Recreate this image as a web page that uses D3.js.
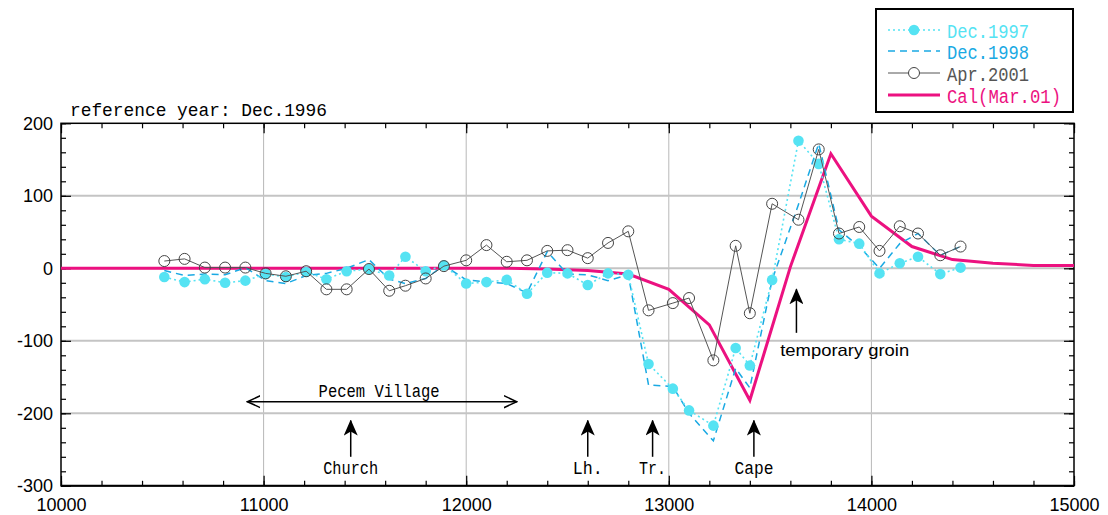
<!DOCTYPE html>
<html>
  <head>
    <meta charset="utf-8">
    <title>Shoreline change</title>
    <style>
      body { margin: 0; background: #fff; }
      .axis text { font-family: "Liberation Sans", Arial, sans-serif; font-size: 18px; fill: #000; }
      .mono { font-family: "Liberation Mono", "DejaVu Sans Mono", monospace; }
    </style>
  </head>
  <body>
    <svg width="1108" height="515"></svg>
    <script src="https://cdn.jsdelivr.net/npm/d3@7"></script>
    <script>

    // survey profile positions (m) and shoreline change relative to Dec.1996 (m)
    var distances = [10510, 10610, 10710, 10810, 10910, 11010, 11110, 11210, 11310, 11410,
                     11520, 11620, 11700, 11800, 11890, 12000, 12100, 12200, 12300, 12400,
                     12500, 12600, 12700, 12800, 12900, 13020, 13100, 13220, 13330, 13400,
                     13510, 13640, 13740, 13840, 13940, 14040, 14140, 14230, 14340, 14440];

    var dec1997 = [-12, -19, -15, -20, -17, -8, -12, -5, -15, -4,
                   -1, -10, 16, -4, 4, -21, -19, -16, -35, -6,
                   -7, -23, -7, -9, -132, -166, -196, -217, -110, -134,
                   -16, 176, 144, 40, 34, -7, 7, 16, -8, 1];

    var dec1998 = [-3, -10, -8, -9, 1, -17, -21, -10, -7, 0,
                   12, -15, -21, -14, 4, -16, -19, -21, -34, 23,
                   -8, -9, -17, -9, -161, -163, -200, -238, -138, -165,
                   -16, 88, 172, 53, 30, 0, 34, 48, 18, 30];

    var apr2001 = [10, 13, 1, 1, 1, -7, -11, -4, -29, -29,
                   -1, -31, -24, -14, 3, 11, 32, 9, 11, 24,
                   25, 14, 35, 51, -58, -48, -41, -127, 31, -62,
                   89, 67, 164, 48, 57, 24, 58, 48, 18, 30];

    // calculated shoreline (model, Mar.01)
    var calDistances = [10000, 10200, 10400, 10600, 10800, 11000, 11200, 11400, 11600, 11800,
                        12000, 12200, 12400, 12600, 12800, 13000, 13200, 13400, 13600, 13800,
                        14000, 14200, 14400, 14600, 14800, 15000];
    var calValues = [0, 0, 0, 0, 0, 0, 0, 0, 0, 0,
                     0, 0, -1, -3, -8, -29, -78, -182, 2, 158,
                     72, 30, 12, 7, 4, 4];

    var xTicks = [10000, 11000, 12000, 13000, 14000, 15000];
    var yTicks = [-300, -200, -100, 0, 100, 200];

    var landmarks = [
      {name: "Church", at: 11430, w: 55},
      {name: "Lh.", at: 12600, w: 30},
      {name: "Tr.", at: 12920, w: 27},
      {name: "Cape", at: 13420, w: 39}
    ];

    var svg = d3.select("svg"),
        margin = {top: 123.3, right: 34, bottom: 29.2, left: 61},
        width = +svg.attr("width") - margin.left - margin.right,
        height = +svg.attr("height") - margin.top - margin.bottom,
        g = svg.append("g")
          .attr("transform", "translate(" + margin.left + "," + margin.top + ")");

    var x = d3.scaleLinear().domain([10000, 15000]).range([0, width]);
    var y = d3.scaleLinear().domain([-300, 200]).range([height, 0]);

    var fmt = function(d) { return String(d); };

    // grid
    g.append("g").selectAll("line")
      .data([11000, 12000, 13000, 14000]).enter().append("line")
        .attr("x1", x).attr("x2", x)
        .attr("y1", 0).attr("y2", height)
        .attr("stroke", "#b8b8b8").attr("stroke-width", 1);
    g.append("g").selectAll("line")
      .data([100, 0, -100, -200]).enter().append("line")
        .attr("x1", 0).attr("x2", width)
        .attr("y1", y).attr("y2", y)
        .attr("stroke", "#c4c4c4").attr("stroke-width", 2);

    // minor + major ticks on all four sides, pointing inward
    var xMinor = d3.range(10000, 15001, 200), yMinor = d3.range(-300, 201, 20);

    function frame(axis, ticks, size, transform, labels) {
      var a = g.append("g").attr("class", "axis")
        .attr("transform", transform)
        .call(axis.tickValues(ticks).tickSize(size).tickSizeOuter(0)
          .tickPadding(labels ? 8 : 0)
          .tickFormat(labels ? fmt : ""));
      a.select(".domain").remove();
      a.selectAll("line").attr("stroke", "#000").attr("stroke-width", 1.2);
      return a;
    }
    frame(d3.axisBottom(x), xMinor, -5, "translate(0," + height + ")", false);
    frame(d3.axisTop(x), xMinor, -5, null, false);
    frame(d3.axisLeft(y), yMinor, -5, null, false);
    frame(d3.axisRight(y), yMinor, -5, "translate(" + width + ",0)", false);
    frame(d3.axisTop(x), xTicks, -10, null, false);
    frame(d3.axisRight(y), yTicks, -10, "translate(" + width + ",0)", false);
    frame(d3.axisBottom(x), xTicks, -10, "translate(0," + height + ")", true)
      .selectAll("text").attr("dy", "0.95em");
    frame(d3.axisLeft(y), yTicks, -10, null, true)
      .selectAll("text").attr("dx", "0");

    g.append("rect")
      .attr("width", width).attr("height", height)
      .attr("fill", "none").attr("stroke", "#000").attr("stroke-width", 1.5);
    g.append("line")
      .attr("x1", 0).attr("x2", width).attr("y1", height).attr("y2", height)
      .attr("stroke", "#000").attr("stroke-width", 2);

    // series
    var line = d3.line()
      .x(function(d) { return x(d[0]); })
      .y(function(d) { return y(d[1]); });

    var cal = d3.zip(calDistances, calValues);
    var s97 = d3.zip(distances, dec1997);
    var s98 = d3.zip(distances, dec1998);
    var s01 = d3.zip(distances, apr2001);

    var series = [
      {name: "Dec.1997", color: "#55e3f3", width: 1.6, dash: "2,3", marker: "dot", w: 82},
      {name: "Dec.1998", color: "#1aa9e3", width: 1.5, dash: "7,5", marker: null, w: 82},
      {name: "Apr.2001", color: "#555", width: 1, dash: null, marker: "ring", w: 82},
      {name: "Cal(Mar.01)", color: "#ec1180", width: 3, dash: null, marker: null, w: 114}
    ];

    g.append("path")
      .attr("d", line(cal))
      .attr("fill", "none").attr("stroke", series[3].color)
      .attr("stroke-width", series[3].width).attr("stroke-linejoin", "miter");

    g.append("path")
      .attr("d", line(s98))
      .attr("fill", "none").attr("stroke", series[1].color)
      .attr("stroke-width", series[1].width).attr("stroke-dasharray", series[1].dash);

    g.append("path")
      .attr("d", line(s97))
      .attr("fill", "none").attr("stroke", series[0].color)
      .attr("stroke-width", series[0].width).attr("stroke-dasharray", series[0].dash);
    g.append("g").selectAll("circle")
      .data(s97).enter().append("circle")
        .attr("cx", function(d) { return x(d[0]); })
        .attr("cy", function(d) { return y(d[1]); })
        .attr("r", 5.3)
        .attr("fill", series[0].color);

    g.append("path")
      .attr("d", line(s01))
      .attr("fill", "none").attr("stroke", series[2].color)
      .attr("stroke-width", series[2].width);
    g.append("g").selectAll("circle")
      .data(s01).enter().append("circle")
        .attr("cx", function(d) { return x(d[0]); })
        .attr("cy", function(d) { return y(d[1]); })
        .attr("r", 5.5)
        .attr("fill", "none")
        .attr("stroke", "#444").attr("stroke-width", 1);

    // annotations
    var defs = svg.append("defs");
    defs.append("marker")
        .attr("id", "head")
        .attr("viewBox", "0 0 16 14")
        .attr("refX", 15).attr("refY", 7)
        .attr("markerWidth", 16).attr("markerHeight", 14)
        .attr("markerUnits", "userSpaceOnUse")
        .attr("orient", "auto")
      .append("path")
        .attr("d", "M0,0 L16,7 L0,14 L4,7 Z")
        .attr("fill", "#000");
    defs.append("marker")
        .attr("id", "open")
        .attr("viewBox", "0 0 14 14")
        .attr("refX", 13).attr("refY", 7)
        .attr("markerWidth", 14).attr("markerHeight", 14)
        .attr("markerUnits", "userSpaceOnUse")
        .attr("orient", "auto-start-reverse")
      .append("path")
        .attr("d", "M0,1 L13,7 L0,13")
        .attr("fill", "none").attr("stroke", "#000").attr("stroke-width", 1.5);

    var lm = g.append("g").selectAll("g")
      .data(landmarks).enter().append("g");
    lm.append("line")
      .attr("x1", function(d) { return x(d.at); })
      .attr("x2", function(d) { return x(d.at); })
      .attr("y1", y(-260)).attr("y2", y(-210))
      .attr("stroke", "#000").attr("stroke-width", 1.5)
      .attr("marker-end", "url(#head)");
    lm.append("text")
      .attr("class", "mono")
      .attr("x", function(d) { return x(d.at); })
      .attr("y", y(-284))
      .attr("text-anchor", "middle")
      .attr("font-size", 18)
      .attr("textLength", function(d) { return d.w; })
      .attr("lengthAdjust", "spacingAndGlyphs")
      .text(function(d) { return d.name; });

    g.append("line")
      .attr("x1", x(10920)).attr("x2", x(12250))
      .attr("y1", y(-184)).attr("y2", y(-184))
      .attr("stroke", "#000").attr("stroke-width", 1.5)
      .attr("marker-start", "url(#open)").attr("marker-end", "url(#open)");
    g.append("text")
      .attr("class", "mono")
      .attr("x", x(11570)).attr("y", y(-177))
      .attr("text-anchor", "middle")
      .attr("font-size", 18)
      .attr("textLength", 121)
      .attr("lengthAdjust", "spacingAndGlyphs")
      .text("Pecem Village");

    g.append("line")
      .attr("x1", x(13630)).attr("x2", x(13630))
      .attr("y1", y(-89)).attr("y2", y(-29))
      .attr("stroke", "#000").attr("stroke-width", 1.5)
      .attr("marker-end", "url(#head)");
    g.append("text")
      .attr("x", x(13550)).attr("y", y(-121))
      .attr("font-family", "Liberation Sans, Arial, sans-serif")
      .attr("font-size", 17)
      .attr("textLength", 129)
      .attr("lengthAdjust", "spacingAndGlyphs")
      .text("temporary groin");

    svg.append("text")
      .attr("class", "mono")
      .attr("x", 70).attr("y", 116)
      .attr("font-size", 19)
      .attr("textLength", 257)
      .attr("lengthAdjust", "spacingAndGlyphs")
      .text("reference year: Dec.1996");

    // legend
    var legend = svg.append("g").attr("transform", "translate(876,9)");
    legend.append("rect")
      .attr("width", 197).attr("height", 103)
      .attr("fill", "#fff").attr("stroke", "#000").attr("stroke-width", 2);
    var item = legend.selectAll("g.item")
      .data(series).enter().append("g")
        .attr("class", "item")
        .attr("transform", function(d, i) { return "translate(0," + [21, 42, 64, 86][i] + ")"; });
    item.append("line")
      .attr("x1", 12).attr("x2", 64)
      .attr("stroke", function(d) { return d.color; })
      .attr("stroke-width", function(d) { return d.width; })
      .attr("stroke-dasharray", function(d) { return d.dash; });
    item.filter(function(d) { return d.marker === "dot"; }).append("circle")
      .attr("cx", 38).attr("r", 5.3).attr("fill", function(d) { return d.color; });
    item.filter(function(d) { return d.marker === "ring"; }).append("circle")
      .attr("cx", 38).attr("r", 5.5).attr("fill", "#fff").attr("stroke", "#444");
    item.append("text")
      .attr("class", "mono")
      .attr("x", 71).attr("y", 8)
      .attr("font-size", 20)
      .attr("textLength", function(d) { return d.w; })
      .attr("lengthAdjust", "spacingAndGlyphs")
      .attr("fill", function(d) { return d.color; })
      .text(function(d) { return d.name; });

    </script>
  </body>
</html>
